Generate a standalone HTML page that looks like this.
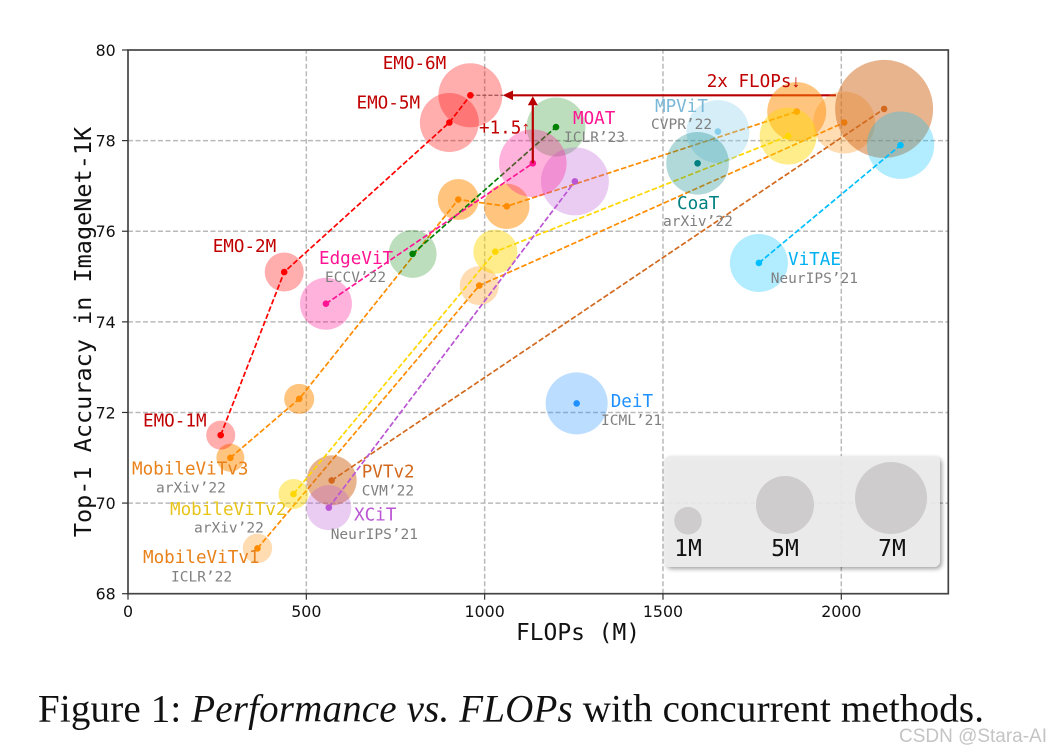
<!DOCTYPE html>
<html lang="en">
<head>
<meta charset="utf-8">
<title>Performance vs. FLOPs</title>
<style>
html,body{margin:0;padding:0;background:#fff;}
svg{display:block;}
.lab{font-family:"DejaVu Sans Mono","Liberation Mono",monospace;font-size:17.6px;}
.sub{font-family:"DejaVu Sans Mono","Liberation Mono",monospace;font-size:14.5px;fill:#808080;}
.tick{font-family:"DejaVu Sans","Liberation Sans",sans-serif;font-size:15.8px;fill:#111;}
.axt{font-family:"DejaVu Sans Mono","Liberation Mono",monospace;font-size:22.9px;fill:#111;}
.axty{font-size:23.5px;}
.leg{font-family:"DejaVu Sans Mono","Liberation Mono",monospace;font-size:23px;fill:#111;}
.arrowglyph{font-family:"Liberation Sans",sans-serif;}
#chart{filter:blur(0.3px);}
</style>
</head>
<body>
<svg id="fig" width="1051" height="754" viewBox="0 0 1051 754" xmlns="http://www.w3.org/2000/svg">
  <defs>
    <filter id="legend-shadow" x="-5%" y="-10%" width="112%" height="125%">
      <feDropShadow dx="2" dy="2" stdDeviation="2" flood-color="#000" flood-opacity="0.4"/>
    </filter>
  </defs>
  <rect width="1051" height="754" fill="#fff"/>
  <g id="chart">
  <g id="grid"></g>
  <g id="arrows"></g>
  <g id="marks"></g>
  <g id="axes"></g>

  <g>
    <rect x="664" y="456" width="276" height="111" rx="6" fill="#ececec" fill-opacity="0.9" filter="url(#legend-shadow)"/>
    <circle cx="688" cy="520.7" r="13.8" fill="#cecccc"/>
    <circle cx="785" cy="505" r="29" fill="#cecccc"/>
    <circle cx="891" cy="498" r="36" fill="#cecccc"/>
    <text class="leg" x="688" y="556" text-anchor="middle">1M</text>
    <text class="leg" x="785" y="556" text-anchor="middle">5M</text>
    <text class="leg" x="892" y="556" text-anchor="middle">7M</text>
  </g>

  <g>
    <text class="lab" x="382.7" y="69" fill="#c00000">EMO-6M</text>
    <text class="lab" x="356.5" y="108.7" fill="#c00000">EMO-5M</text>
    <text class="lab" x="212.7" y="252" fill="#c00000">EMO-2M</text>
    <text class="lab" x="143" y="426.7" fill="#c00000">EMO-1M</text>
    <text class="lab" x="479" y="133.7" fill="#c00000">+1.5<tspan class="arrowglyph">↑</tspan></text>
    <text class="lab" x="706.7" y="87" fill="#c00000">2x FLOPs<tspan class="arrowglyph">↓</tspan></text>

    <text class="lab" x="319" y="264" fill="#ff1493">EdgeViT</text>
    <text class="sub" x="325" y="282">ECCV’22</text>
    <text class="lab" x="573" y="124" fill="#ff1493">MOAT</text>
    <text class="sub" x="564" y="142">ICLR’23</text>
    <text class="lab" x="655" y="112" fill="#7ab8d8">MPViT</text>
    <text class="sub" x="651" y="129">CVPR’22</text>
    <text class="lab" x="677" y="209" fill="#008080">CoaT</text>
    <text class="sub" x="663" y="226">arXiv’22</text>
    <text class="lab" x="788" y="265" fill="#00b0f0">ViTAE</text>
    <text class="sub" x="770.7" y="283">NeurIPS’21</text>
    <text class="lab" x="610.7" y="407" fill="#1e90ff">DeiT</text>
    <text class="sub" x="601" y="425">ICML’21</text>
    <text class="lab" x="132" y="474.7" fill="#e8811a">MobileViTv3</text>
    <text class="sub" x="156" y="492.7">arXiv’22</text>
    <text class="lab" x="170" y="515" fill="#e8c41a">MobileViTv2</text>
    <text class="sub" x="194" y="532.7">arXiv’22</text>
    <text class="lab" x="143" y="563" fill="#e8811a">MobileViTv1</text>
    <text class="sub" x="171" y="581.7">ICLR’22</text>
    <text class="lab" x="361.7" y="477.7" fill="#d2691e">PVTv2</text>
    <text class="sub" x="361.7" y="495.7">CVM’22</text>
    <text class="lab" x="354" y="520.7" fill="#ba55d3">XCiT</text>
    <text class="sub" x="330.7" y="539">NeurIPS’21</text>
  </g>
  </g>

  <text x="38" y="721.5" font-family="'Liberation Serif',serif" font-size="39" fill="#111" textLength="946" lengthAdjust="spacing">Figure 1: <tspan font-style="italic">Performance vs. FLOPs</tspan> with concurrent methods.</text>
  <text x="899" y="742" font-family="'Liberation Sans',sans-serif" font-size="19" fill="#c4c4c4" textLength="148" lengthAdjust="spacingAndGlyphs">CSDN @Stara-AI</text>
</svg>

<script>
const xTicks = [0, 500, 1000, 1500, 2000];
const yTicks = [68, 70, 72, 74, 76, 78, 80];

const emoFlops = [260, 438, 901, 960];
const emoAcc = [71.5, 75.1, 78.4, 79.0];
const emoParams = [1.14, 2.06, 4.7, 5.54];

const v1Flops = [363, 985, 2008];
const v1Acc = [69.0, 74.8, 78.4];
const v1Params = [1.17, 2.06, 5.2];

const v3Flops = [287, 480, 926, 1062, 1875];
const v3Acc = [71.0, 72.3, 76.7, 76.55, 78.64];
const v3Params = [1.06, 1.22, 2.27, 2.79, 4.7];

const v2Flops = [464, 1030, 1851];
const v2Acc = [70.2, 75.55, 78.1];
const v2Params = [1.22, 2.62, 4.39];

const pvtFlops = [571, 2120];
const pvtAcc = [70.5, 78.7];
const pvtParams = [3.38, 12.98];

const xcitFlops = [563, 1253];
const xcitAcc = [69.9, 77.1];
const xcitParams = [2.74, 6.25];

const edgeFlops = [555, 1135];
const edgeAcc = [74.4, 77.5];
const edgeParams = [3.65, 6.18];

const moatFlops = [798, 1200];
const moatAcc = [75.5, 78.3];
const moatParams = [3.11, 4.7];

const mpvitFlops = [1654];
const mpvitAcc = [78.2];
const mpvitParams = [5.36];

const coatFlops = [1597];
const coatAcc = [77.5];
const coatParams = [5.3];

const vitaeFlops = [1769, 2166];
const vitaeAcc = [75.3, 77.9];
const vitaeParams = [4.55, 6.14];

const deitFlops = [1258];
const deitAcc = [72.2];
const deitParams = [5.2];

const NS = 'http://www.w3.org/2000/svg';
const X0 = 128, X1 = 948.3, Y0 = 593.7, Y1 = 50;
function xs(v){ return X0 + (v / 2300) * (X1 - X0); }
function ys(v){ return Y0 - ((v - 68) / 12) * (Y0 - Y1); }
function rs(m){ return 13.6 * Math.sqrt(m); }

function make(parent, tag, attrs){
  const el = document.createElementNS(NS, tag);
  for (const k in attrs) el.setAttribute(k, attrs[k]);
  parent.appendChild(el);
  return el;
}

const gridG = document.getElementById('grid');
const marksG = document.getElementById('marks');
const arrowsG = document.getElementById('arrows');
const axesG = document.getElementById('axes');

xTicks.forEach(function(t){
  if (t === 0) return;
  const l = make(gridG, 'line', {x1: xs(t), x2: xs(t), y1: Y0, y2: Y1, stroke: '#b9b9b9', 'stroke-width': 1.5, 'stroke-dasharray': '5 2.5'});
  
  
});
yTicks.forEach(function(t){
  if (t === 68 || t === 80) return;
  const l = make(gridG, 'line', {x1: X0, x2: X1, y1: ys(t), y2: ys(t), stroke: '#b9b9b9', 'stroke-width': 1.5, 'stroke-dasharray': '5 2.5'});
  
  
});

function drawSeries(name, flops, acc, params, color, alpha){
  const g = make(marksG, 'g', {});
  
  
  flops.forEach(function(f, i){
    const c = make(g, 'circle', {cx: xs(f), cy: ys(acc[i]), r: rs(params[i]), fill: color, 'fill-opacity': alpha});
    
    
  });
  if (flops.length > 1) {
    const pts = flops.map(function(f, i){ return xs(f) + ',' + ys(acc[i]); }).join(' ');
    const p = make(g, 'polyline', {points: pts, fill: 'none', stroke: color, 'stroke-width': 1.7, 'stroke-dasharray': '5.5 2.3'});
    
    
  }
  flops.forEach(function(f, i){
    const d = make(g, 'circle', {cx: xs(f), cy: ys(acc[i]), r: 3.3, fill: color});
    
    
  });
}

drawSeries('mobilevitv1', v1Flops, v1Acc, v1Params, '#ff8c00', 0.3);
drawSeries('pvtv2', pvtFlops, pvtAcc, pvtParams, '#d2691e', 0.5);
drawSeries('mobilevitv3', v3Flops, v3Acc, v3Params, '#ff8c00', 0.5);
drawSeries('mobilevitv2', v2Flops, v2Acc, v2Params, '#ffd700', 0.45);
drawSeries('moat', moatFlops, moatAcc, moatParams, '#008000', 0.26);
drawSeries('xcit', xcitFlops, xcitAcc, xcitParams, '#ba55d3', 0.3);
drawSeries('edgevit', edgeFlops, edgeAcc, edgeParams, '#ff1493', 0.32);
drawSeries('mpvit', mpvitFlops, mpvitAcc, mpvitParams, '#87ceeb', 0.35);
drawSeries('coat', coatFlops, coatAcc, coatParams, '#008080', 0.3);
drawSeries('vitae', vitaeFlops, vitaeAcc, vitaeParams, '#00bfff', 0.3);
drawSeries('deit', deitFlops, deitAcc, deitParams, '#1e90ff', 0.3);
drawSeries('emo', emoFlops, emoAcc, emoParams, '#ff0000', 0.32);

/* annotation arrows anchored on EMO-6M and the EdgeViT end point */
const topAcc = emoAcc[emoAcc.length - 1];
const topFlops = emoFlops[emoFlops.length - 1];
const edgeEndF = edgeFlops[edgeFlops.length - 1];
const edgeEndA = edgeAcc[edgeAcc.length - 1];
const ay = ys(topAcc);

const gd = make(arrowsG, 'line', {x1: xs(topFlops), x2: 503, y1: ay, y2: ay, stroke: '#808080', 'stroke-width': 1.4, 'stroke-dasharray': '4 2'});



const hl = make(arrowsG, 'line', {x1: 836, x2: 510, y1: ay, y2: ay, stroke: '#b80000', 'stroke-width': 2.2});


const hh = make(arrowsG, 'polygon', {points: '502.7,' + ay + ' 513,' + (ay - 4.8) + ' 513,' + (ay + 4.8), fill: '#b80000'});



const vx = xs(edgeEndF);
const vl = make(marksG, 'line', {x1: vx, x2: vx, y1: ys(edgeEndA), y2: ay + 6, stroke: '#b80000', 'stroke-width': 2.2});


const vh = make(marksG, 'polygon', {points: vx + ',' + (ay + 1) + ' ' + (vx - 5) + ',' + (ay + 10) + ' ' + (vx + 5) + ',' + (ay + 10), fill: '#b80000'});



/* axes */
const frame = make(axesG, 'rect', {x: X0, y: Y1, width: X1 - X0, height: Y0 - Y1, fill: 'none', stroke: '#444', 'stroke-width': 1.7});



xTicks.forEach(function(t){
  const m = make(axesG, 'line', {x1: xs(t), x2: xs(t), y1: Y0, y2: Y0 + 6, stroke: '#333', 'stroke-width': 1.2});
  
  
  const l = make(axesG, 'text', {x: xs(t), y: 617, 'text-anchor': 'middle', class: 'tick'});
  l.textContent = String(t);
  
  
});
yTicks.forEach(function(t){
  const m = make(axesG, 'line', {x1: X0 - 6, x2: X0, y1: ys(t), y2: ys(t), stroke: '#333', 'stroke-width': 1.2});
  
  
  const l = make(axesG, 'text', {x: 115.7, y: ys(t) + 6, 'text-anchor': 'end', class: 'tick'});
  l.textContent = String(t);
  
  
});

const xTitle = make(axesG, 'text', {x: 578, y: 640, 'text-anchor': 'middle', class: 'axt'});
xTitle.textContent = 'FLOPs (M)';



const yTitle = make(axesG, 'text', {transform: 'translate(91,332) rotate(-90)', 'text-anchor': 'middle', class: 'axt axty'});
yTitle.textContent = 'Top-1 Accuracy in ImageNet-1K';


</script>
</body>
</html>
